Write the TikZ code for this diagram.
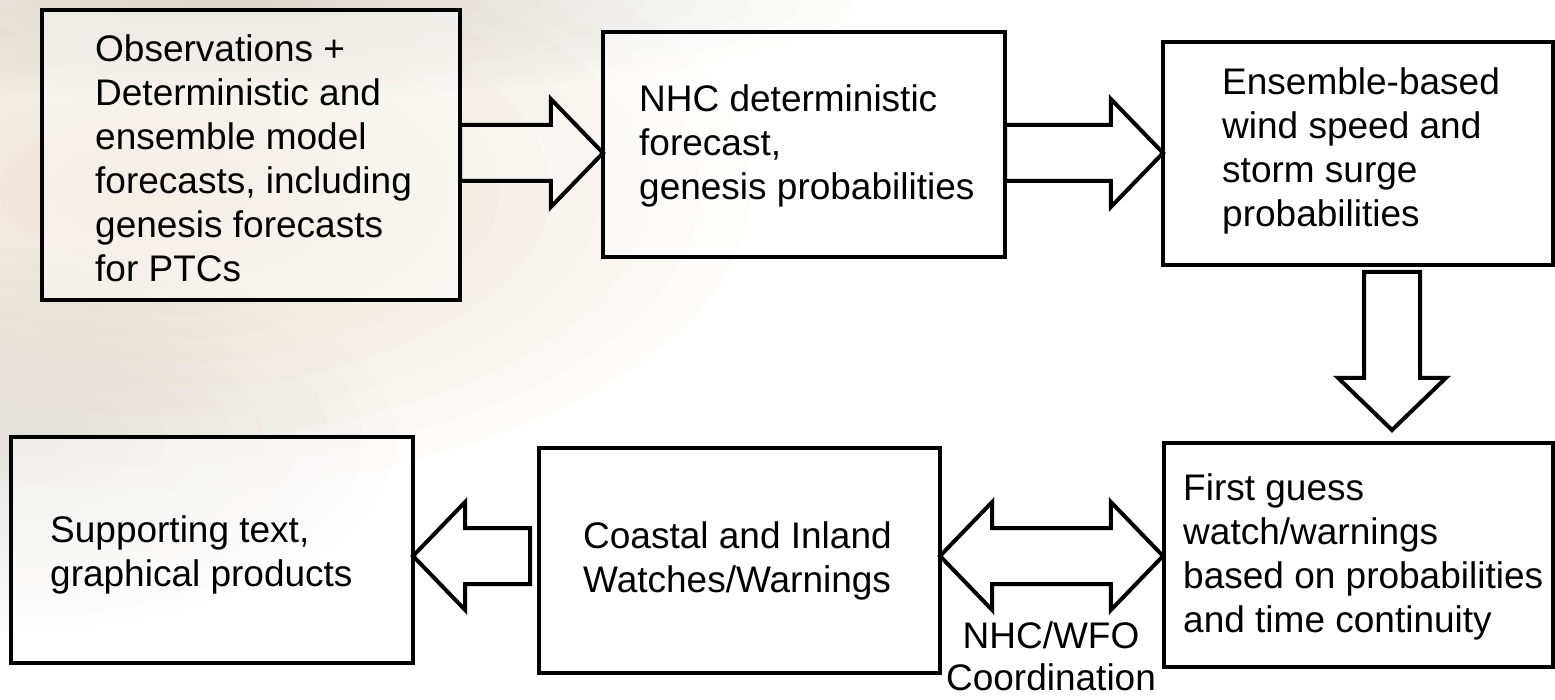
\documentclass[tikz,border=0pt]{standalone}
\usepackage{fontspec}
\setmainfont{Liberation Sans}
\usetikzlibrary{shapes.arrows,calc}
\definecolor{hzbeige}{HTML}{DCC5A2}
\definecolor{hzgray}{HTML}{BDB7AF}
\definecolor{hzlow}{HTML}{C9C7C3}
\begin{document}
\begin{tikzpicture}[x=1pt,y=-1pt,
  box/.style={draw=black, line width=4pt, fill=white, fill opacity=0.45, text opacity=1, inner sep=0pt, outer sep=0pt, anchor=north west},
  txt/.style={align=left, inner sep=0pt, anchor=west, font=\fontsize{37}{44}\selectfont},
  blockarrow/.style={draw=black, line width=4pt, line join=miter, inner sep=26pt, outer sep=0pt, fill=white, fill opacity=0.4},
  sarrow/.style={blockarrow, single arrow, single arrow head extend=26pt, single arrow tip angle=92},
  darrow/.style={blockarrow, double arrow, double arrow head extend=26pt, double arrow tip angle=92}]
% canvas
\fill[white] (0,0) rectangle (1555,700);
\useasboundingbox (0,0) rectangle (1555,700);
% background haze
\begin{scope}
\clip (0,0) rectangle (1555,700);
\foreach \k in {1,...,12}{
  \fill[hzbeige, opacity=0.045] (150,190) ellipse [x radius={50pt*\k}, y radius={25pt*\k}];
  \fill[hzgray, opacity=0.04] (230,0) ellipse [x radius={52pt*\k}, y radius={8pt*\k}];
  \fill[hzlow, opacity=0.04] (0,440) ellipse [x radius={33pt*\k}, y radius={16pt*\k}];
}
\end{scope}
% boxes
\node[box, minimum width=418pt, minimum height=290pt] (b1) at (42,10) {};
\node[box, minimum width=402pt, minimum height=225pt] (b2) at (603,32) {};
\node[box, minimum width=390pt, minimum height=223pt] (b3) at (1163,42) {};
\node[box, minimum width=389pt, minimum height=224pt] (b4) at (1164,443) {};
\node[box, minimum width=401pt, minimum height=225pt] (b5) at (539,448) {};
\node[box, minimum width=402pt, minimum height=226pt] (b6) at (11,437) {};
% texts
\node[txt] (t1) at ($(b1.west)+(53,3)$) {Observations +\\Deterministic and\\ensemble model\\forecasts, including\\genesis forecasts\\for PTCs};
\node[txt] (t2) at ($(b2.west)+(36,1)$) {NHC deterministic\\forecast,\\genesis probabilities};
\node[txt] (t3) at ($(b3.west)+(59,-3)$) {Ensemble-based\\wind speed and\\storm surge\\probabilities};
\node[txt] (t4) at ($(b4.west)+(19,2)$) {First guess\\watch/warnings\\based on probabilities\\and time continuity};
\node[txt] (t5) at ($(b5.west)+(44,0)$) {Coastal and Inland\\Watches/Warnings};
\node[txt] (t6) at ($(b6.west)+(39,5)$) {Supporting text,\\graphical products};
% arrows
\coordinate (ya) at (0,153);
\coordinate (yb) at (0,556);
\coordinate (xc) at (1392,272);
\node[sarrow, minimum height=143pt, anchor=tail] (a1) at (b1.east |- ya) {};
\node[sarrow, minimum height=158pt, anchor=tail] (a2) at (b2.east |- ya) {};
\node[sarrow, minimum height=158pt, shape border rotate=270, anchor=tail] (a3) at (xc) {};
\node[darrow, minimum height=223pt, anchor=west] (a4) at (b5.east |- yb) {};
\node[sarrow, minimum height=117pt, shape border rotate=180, anchor=tip] (a5) at (b6.east |- yb) {};
% label
\node[align=center, inner sep=0pt, font=\fontsize{37}{42}\selectfont] (lbl) at (1051,656) {NHC/WFO\\Coordination};
\end{tikzpicture}
\end{document}
